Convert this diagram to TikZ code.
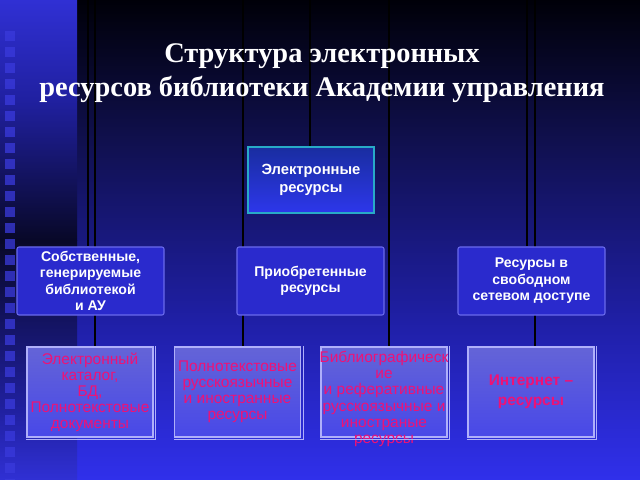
\documentclass[tikz,border=0pt]{standalone}
\usepackage{fontspec}
\setmainfont{Liberation Serif}
\newfontfamily\boxfont{Liberation Sans}
\usetikzlibrary{positioning}

\definecolor{bgtop}{RGB}{0,0,8}
\definecolor{bgup}{RGB}{16,16,78}
\definecolor{bgmid}{RGB}{32,32,170}
\definecolor{bgbot}{RGB}{48,48,235}
\definecolor{striptop}{RGB}{48,48,212}
\definecolor{stripmid}{RGB}{32,32,160}
\definecolor{stripdark}{RGB}{8,8,40}
\definecolor{squarefill}{RGB}{58,58,220}
\definecolor{rootedge}{RGB}{40,170,200}
\definecolor{roottop}{RGB}{25,45,160}
\definecolor{rootbot}{RGB}{45,55,235}
\definecolor{groupfill}{RGB}{42,42,205}
\definecolor{groupedge}{RGB}{105,105,235}
\definecolor{leaftop}{RGB}{100,100,215}
\definecolor{leafbot}{RGB}{72,72,232}
\definecolor{leafedge}{RGB}{175,175,250}
\definecolor{leafink}{RGB}{238,18,118}

\pgfdeclarelayer{back}
\pgfdeclarelayer{lines}
\pgfsetlayers{back,lines,main}

\tikzset{
  rootbox/.style={draw=rootedge, line width=1pt, top color=roottop, bottom color=rootbot,
    minimum width=3.15cm, minimum height=1.65cm, inner sep=0pt, align=center,
    text=white, font=\boxfont\bfseries\fontsize{10.5}{12.8}\selectfont},
  groupbox/.style={draw=groupedge, line width=0.8pt, fill=groupfill, rounded corners=1.5pt,
    minimum width=3.675cm, minimum height=1.7cm, inner sep=0pt, align=center,
    text=white, font=\boxfont\bfseries\fontsize{10}{11.7}\selectfont},
  leafbox/.style={draw=leafedge, line width=0.8pt, top color=leaftop, bottom color=leafbot,
    minimum width=3.15cm, minimum height=2.25cm, inner sep=0pt, align=center,
    text=leafink, font=\boxfont\fontsize{11}{11.4}\selectfont},
  leaftext/.style={inner sep=0pt, align=center, text=leafink,
    font=\boxfont\fontsize{11}{11.6}\selectfont},
  trunk/.style={black, line width=1.3pt}
}

\begin{document}
\begin{tikzpicture}[x=0.025cm, y=-0.025cm]
    \useasboundingbox (0, 0) rectangle (640, 480);

    % background
    \begin{pgfonlayer}{back}
    \shade [top color=bgtop, bottom color=bgup] (0, 0) rectangle (640, 140);
    \shade [top color=bgup, bottom color=bgmid] (0, 140) rectangle (640, 330);
    \shade [top color=bgmid, bottom color=bgbot] (0, 330) rectangle (640, 480);

    % left strip
    \shade [top color=striptop, bottom color=stripmid] (0, 0) rectangle (77, 100);
    \shade [top color=stripmid, bottom color=stripdark] (0, 100) rectangle (77, 240);
    \shade [top color=stripdark, bottom color=stripmid] (0, 240) rectangle (77, 410);
    \shade [top color=stripmid, bottom color=striptop] (0, 410) rectangle (77, 480);
    \foreach \i in {0,...,28}
      \fill [squarefill, opacity=0.75] (5, 31 + 16*\i) rectangle (15, 41 + 16*\i);
    \end{pgfonlayer}

    % title
    \node [text=white, align=center, font=\bfseries\fontsize{20.2}{24.2}\selectfont]
      (title) at (322, 73) {Структура электронных\\ресурсов библиотеки Академии управления};

    \coordinate (top1) at (95, 0);
    \coordinate (top2) at (243, 0);
    \coordinate (top3) at (389, 0);
    \coordinate (top4) at (535, 0);
    \coordinate (side1) at (88, 0);
    \coordinate (side2) at (310, 0);
    \coordinate (side3) at (527, 0);

    % boxes
    \node [rootbox] (root) at (311, 180) {Электронные\\ресурсы};

    \node [groupbox] (own) at (90.5, 281) {Собственные,\\генерируемые\\библиотекой\\и АУ};
    \node [groupbox] (bought) at (310.5, 281) {Приобретенные\\ресурсы};
    \node [groupbox] (free) at (531.5, 281) {Ресурсы в\\свободном\\сетевом доступе};

    \node [leafbox] (leaf1) at (90, 392) {Электронный\\каталог,\\БД,\\Полнотекстовые\\документы};
    \node [leafbox] (leaf2) at (237.5, 392) {Полнотекстовые\\русскоязычные\\и иностранные\\ресурсы};
    \node [leafbox] (leaf3) at (384, 392) {};
    \node [leafbox, font=\boxfont\bfseries\fontsize{11}{14}\selectfont] (leaf4) at (531, 392) {Интернет –\\ресурсы};
    \node [leaftext, below=3pt of leaf3.north] (leaf3text)
      {Библиографическ\\ие\\и реферативные\\русскоязычные и\\иностраные\\ресурсы};

    \foreach \n in {leaf1, leaf2, leaf3, leaf4}
      \draw [leafedge, line width=0.6pt] ([xshift=1.6pt]\n.north east) -- ([xshift=1.6pt, yshift=-1.6pt]\n.south east)
        -- ([yshift=-1.6pt]\n.south west);

    % lines
    \begin{pgfonlayer}{lines}
    \draw [trunk] (top1) -- (top1 |- leaf1.north);
    \draw [trunk] (top2) -- (top2 |- leaf2.north);
    \draw [trunk] (top3) -- (top3 |- leaf3.north);
    \draw [trunk] (top4) -- (top4 |- leaf4.north);
    \draw [trunk] (side1) -- (side1 |- own.north);
    \draw [trunk] (side2) -- (side2 |- root.north);
    \draw [trunk] (side3) -- (side3 |- free.north);
    \end{pgfonlayer}
\end{tikzpicture}
\end{document}
